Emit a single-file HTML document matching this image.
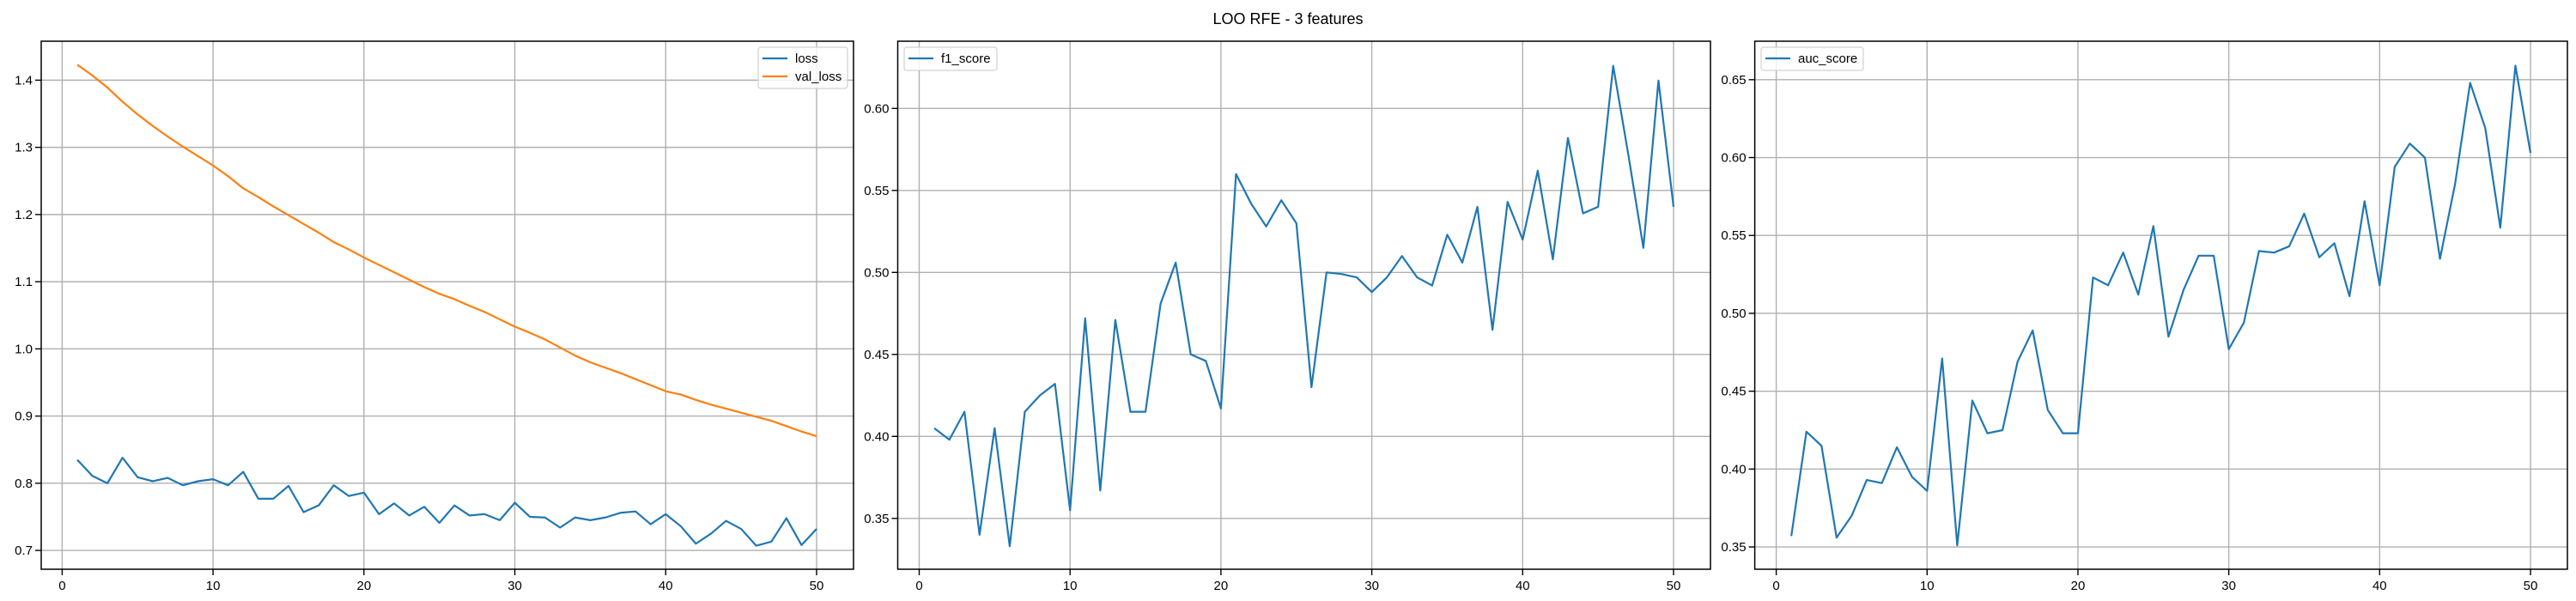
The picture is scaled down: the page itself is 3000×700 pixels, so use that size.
<!DOCTYPE html>
<html><head><meta charset="utf-8"><style>
html,body{margin:0;padding:0;background:#fff;}
svg{display:block;font-family:"Liberation Sans","DejaVu Sans",sans-serif;}
</style></head><body>
<svg id="fig" width="3000" height="700" viewBox="0 0 3000 700" xmlns="http://www.w3.org/2000/svg">
<rect width="3000" height="700" fill="#fff"/>
<text x="1500" y="28" text-anchor="middle" font-size="18" fill="#000">LOO RFE - 3 features</text>
</svg>
<script>
const epochs = Array.from({length:50},(_,i)=>i+1);
const lossValues = [0.835,0.811,0.800,0.838,0.809,0.803,0.808,0.797,0.803,0.806,0.797,0.817,0.777,0.777,0.796,0.757,0.767,0.797,0.781,0.786,0.754,0.770,0.752,0.765,0.741,0.767,0.752,0.754,0.745,0.771,0.750,0.749,0.734,0.749,0.745,0.749,0.756,0.758,0.739,0.754,0.736,0.710,0.725,0.744,0.732,0.707,0.713,0.748,0.708,0.732];
const valLossValues = [1.423,1.407,1.389,1.368,1.349,1.332,1.316,1.301,1.287,1.273,1.257,1.239,1.226,1.212,1.199,1.186,1.173,1.159,1.148,1.136,1.125,1.114,1.103,1.092,1.082,1.074,1.064,1.055,1.044,1.033,1.024,1.014,1.002,0.990,0.980,0.972,0.964,0.955,0.946,0.937,0.932,0.924,0.917,0.911,0.905,0.899,0.893,0.885,0.877,0.870];
const f1Values = [0.405,0.398,0.415,0.340,0.405,0.333,0.415,0.425,0.432,0.355,0.472,0.367,0.471,0.415,0.415,0.481,0.506,0.450,0.446,0.417,0.560,0.542,0.528,0.544,0.530,0.430,0.500,0.499,0.497,0.488,0.497,0.510,0.497,0.492,0.523,0.506,0.540,0.465,0.543,0.520,0.562,0.508,0.582,0.536,0.540,0.626,0.572,0.515,0.617,0.540];
const aucValues = [0.357,0.424,0.415,0.356,0.370,0.393,0.391,0.414,0.395,0.386,0.471,0.351,0.444,0.423,0.425,0.469,0.489,0.438,0.423,0.423,0.523,0.518,0.539,0.512,0.556,0.485,0.515,0.537,0.537,0.477,0.494,0.540,0.539,0.543,0.564,0.536,0.545,0.511,0.572,0.518,0.594,0.609,0.600,0.535,0.583,0.648,0.619,0.555,0.659,0.603];
const xTicks = [0,10,20,30,40,50];
const lossYTicks = [0.7,0.8,0.9,1.0,1.1,1.2,1.3,1.4];
const f1YTicks = [0.35,0.40,0.45,0.50,0.55,0.60];
const aucYTicks = [0.35,0.40,0.45,0.50,0.55,0.60,0.65];

const NS="http://www.w3.org/2000/svg";
const svg=document.getElementById('fig');
function mk(tag,attrs,parent){const e=document.createElementNS(NS,tag);for(const k in attrs)e.setAttribute(k,attrs[k]);(parent||svg).appendChild(e);return e;}

function panel(cfg){
  const g=mk('g',{});
  
  
  const L=cfg.left,R=cfg.right,T=48,B=663;
  const xs=v=>cfg.x0+(v-0)*(cfg.x50-cfg.x0)/50;
  const ys=v=>B-(v-cfg.ymin)*(B-T)/(cfg.ymax-cfg.ymin);
  xTicks.forEach(t=>{
    const x=xs(t);
    const gl=mk('line',{x1:x,x2:x,y1:T,y2:B,stroke:'#b0b0b0','stroke-width':1.4},g);
    
    
    mk('line',{x1:x,x2:x,y1:B,y2:B+7,stroke:'#000','stroke-width':1.4},g);
    const tx=mk('text',{x:x,y:B+24,'text-anchor':'middle','font-size':15,fill:'#000'},g);
    tx.textContent=String(t);
    
    
  });
  cfg.yTicks.forEach(t=>{
    const y=ys(t);
    const gl=mk('line',{x1:L,x2:R,y1:y,y2:y,stroke:'#b0b0b0','stroke-width':1.4},g);
    
    
    mk('line',{x1:L-7,x2:L,y1:y,y2:y,stroke:'#000','stroke-width':1.4},g);
    const tx=mk('text',{x:L-10,y:y+5,'text-anchor':'end','font-size':15,fill:'#000'},g);
    tx.textContent=t.toFixed(cfg.dec);
    
    
  });
  cfg.series.forEach(s=>{
    const p=mk('polyline',{points:s.values.map((v,i)=>xs(epochs[i])+','+ys(v)).join(' '),fill:'none',stroke:s.color,'stroke-width':2.2,'stroke-linejoin':'round'},g);
    
    
  });
  const frame=mk('rect',{x:L,y:T,width:R-L,height:B-T,fill:'none',stroke:'#000','stroke-width':1.5},g);
  
  
  const lg=mk('g',{},g);
  
  
  const lb=cfg.legend;
  mk('rect',{x:lb.x,y:55,width:lb.w,height:cfg.series.length*21+6,rx:3,fill:'#fff','fill-opacity':0.8,stroke:'#d0d0d0','stroke-width':1.2},lg);
  cfg.series.forEach((s,i)=>{
    const y=68+i*21;
    mk('line',{x1:lb.x+5,x2:lb.x+34,y1:y,y2:y,stroke:s.color,'stroke-width':2.2},lg);
    const t=mk('text',{x:lb.x+43,y:y+5,'font-size':15,fill:'#000'},lg);
    t.textContent=s.label;
    
    
  });
}
panel({name:'loss-chart',left:48,right:994,x0:72.4,x50:951,ymin:0.672,ymax:1.458,yTicks:lossYTicks,dec:1,
  series:[{label:'loss',values:lossValues,color:'#1f77b4'},{label:'val_loss',values:valLossValues,color:'#ff7f0e'}],legend:{x:883,w:104}});
panel({name:'f1-chart',left:1045.5,right:1992,x0:1070.5,x50:1949,ymin:0.319,ymax:0.641,yTicks:f1YTicks,dec:2,
  series:[{label:'f1_score',values:f1Values,color:'#1f77b4'}],legend:{x:1053,w:108}});
panel({name:'auc-chart',left:2043.6,right:2990,x0:2068.6,x50:2947,ymin:0.3357,ymax:0.6747,yTicks:aucYTicks,dec:2,
  series:[{label:'auc_score',values:aucValues,color:'#1f77b4'}],legend:{x:2051,w:119}});
</script>
</body></html>
